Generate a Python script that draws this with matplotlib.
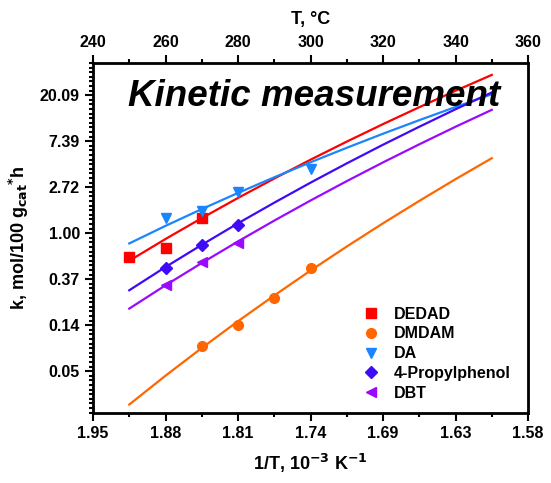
import numpy as np
import matplotlib
matplotlib.use("Agg")
import matplotlib.pyplot as plt
from matplotlib.ticker import FixedLocator, FuncFormatter, NullFormatter

plt.rcParams['font.family'] = ['Liberation Sans', 'DejaVu Sans']
plt.rcParams['font.weight'] = 'bold'
plt.rcParams['axes.labelweight'] = 'bold'

# measured points (T in degC, k in mol/100 g_cat*h)
t_dedad = [250, 260, 270]
k_dedad = [0.59, 0.72, 1.38]
t_dmdam = [270, 280, 290, 300]
k_dmdam = [0.086, 0.135, 0.245, 0.465]
t_da = [260, 270, 280, 300]
k_da = [1.38, 1.62, 2.46, 4.06]
t_prop = [260, 270, 280]
k_prop = [0.465, 0.77, 1.20]
t_dbt = [260, 270, 280]
k_dbt = [0.323, 0.538, 0.81]

# fitted lines
t_fit = [250, 260, 270, 280, 290, 300, 310, 320, 330, 340, 350]
fit_dedad = [0.549, 0.881, 1.387, 2.151, 3.28, 4.94, 7.32, 10.71, 15.47, 22.1, 31.2]
fit_dmdam = [0.0241, 0.0451, 0.0824, 0.1475, 0.258, 0.4435, 0.748, 1.239, 2.016, 3.235, 5.10]
fit_da = [0.80, 1.172, 1.687, 2.399, 3.37, 4.67, 6.40, 8.69, 11.67, 15.53, 20.5]
fit_prop = [0.289, 0.479, 0.776, 1.239, 1.94, 2.998, 4.56, 6.84, 10.11, 14.79, 21.3]
fit_dbt = [0.194, 0.322, 0.523, 0.836, 1.314, 2.034, 3.10, 4.66, 6.90, 10.11, 14.6]

top_ticks = [240, 260, 280, 300, 320, 340, 360]
bottom_labels = ["1.95", "1.88", "1.81", "1.74", "1.69", "1.63", "1.58"]

series = [
    ("DEDAD", t_dedad, k_dedad, fit_dedad, "#ff0000", "s"),
    ("DMDAM", t_dmdam, k_dmdam, fit_dmdam, "#ff6600", "o"),
    ("DA", t_da, k_da, fit_da, "#1a85ff", "v"),
    ("4-Propylphenol", t_prop, k_prop, fit_prop, "#3f0af5", "D"),
    ("DBT", t_dbt, k_dbt, fit_dbt, "#9a0aff", "<"),
]

fig = plt.figure(figsize=(5.51, 4.83), dpi=100)
ax = fig.add_axes([0.1688, 0.1449, 0.7895, 0.7247])

handles = []
for name, t, k, fit, col, mk in series:
    ax.plot(t_fit, fit, color=col, lw=1.6, solid_joinstyle='round')
    h, = ax.plot(t, k, ls='none', marker=mk, color=col, ms=7 if mk != "D" else 6.5,
                 label=name)
    handles.append(h)

ax.set_yscale('log', base=np.e)
ax.set_ylim(np.exp(-3.91), np.exp(3.70))
ax.set_xlim(240, 360)

ax.yaxis.set_major_locator(FixedLocator(np.exp(np.arange(-3, 4))))
ax.yaxis.set_major_formatter(FuncFormatter(lambda v, p: "%.2f" % v))
ax.yaxis.set_minor_locator(FixedLocator(np.exp(np.arange(-39, 38) * 0.1)))
ax.yaxis.set_minor_formatter(NullFormatter())

ax.set_xticks(top_ticks)
ax.set_xticklabels(bottom_labels)
ax.set_xticks(range(250, 360, 20), minor=True)

ax.tick_params(which='major', direction='out', length=6, width=1.5, labelsize=11.5)
ax.tick_params(which='minor', direction='out', length=3, width=1.5)
for s in ax.spines.values():
    s.set_linewidth(2)

ax2 = ax.twiny()
ax2.set_xlim(240, 360)
ax2.set_xticks(top_ticks)
ax2.set_xticks(range(250, 360, 20), minor=True)
ax2.tick_params(which='major', direction='out', length=6, width=1.5, labelsize=11.5)
ax2.tick_params(which='minor', direction='out', length=3, width=1.5)
ax2.set_xlabel("T, °C", fontsize=13, labelpad=8)

ax.set_xlabel(r"1/T, 10$^{\mathbf{-3}}$ K$^{\mathbf{-1}}$", fontsize=13, labelpad=8)
ax.set_ylabel(r"k, mol/100 g$_{\mathbf{cat}}$$^{\mathbf{*}}$h", fontsize=13, labelpad=6)

ax.text(0.08, 0.905, "Kinetic measurement", transform=ax.transAxes,
        fontsize=26.5, fontweight='bold', fontstyle='italic', va='center', ha='left')

ax.legend(handles=handles, loc='upper left', bbox_to_anchor=(0.585, 0.345),
          frameon=False, fontsize=11.5, handletextpad=0.8, labelspacing=0.3,
          handlelength=1.2)

fig.savefig("out.png", dpi=100)
